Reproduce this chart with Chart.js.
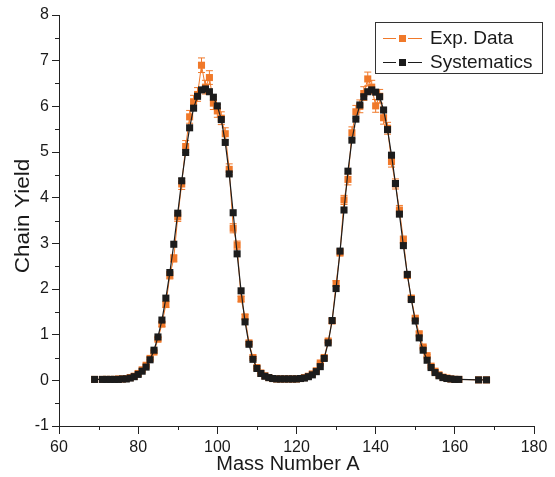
<!DOCTYPE html>
<html><head><meta charset="utf-8">
<script src="https://cdn.jsdelivr.net/npm/chart.js@4.4.0/dist/chart.umd.min.js"></script>
<style>html,body{margin:0;padding:0;background:#fff}#wrap{width:555px;height:477px}</style>
</head><body><div id="wrap"><canvas id="c" width="555" height="477"></canvas></div>
<script>
const massNumbers = [69,71,72,73,74,75,76,77,78,79,80,81,82,83,84,85,86,87,88,89,90,91,92,93,94,95,96,97,98,99,100,101,102,103,104,105,106,107,108,109,110,111,112,113,114,115,116,117,118,119,120,121,122,123,124,125,126,127,128,129,130,131,132,133,134,135,136,137,138,139,140,141,142,143,144,145,146,147,148,149,150,151,152,153,154,155,156,157,158,159,160,161,166,168];
const systematics = [0.02,0.02,0.02,0.02,0.02,0.02,0.03,0.03,0.05,0.08,0.13,0.20,0.29,0.45,0.66,0.95,1.32,1.80,2.36,2.98,3.66,4.37,4.99,5.53,5.96,6.22,6.36,6.38,6.32,6.20,6.01,5.71,5.21,4.52,3.67,2.77,1.96,1.28,0.79,0.46,0.26,0.15,0.09,0.06,0.04,0.03,0.03,0.03,0.03,0.03,0.03,0.04,0.05,0.08,0.12,0.19,0.30,0.48,0.82,1.31,2.01,2.83,3.73,4.58,5.26,5.72,6.03,6.21,6.32,6.36,6.31,6.21,5.92,5.49,4.93,4.31,3.64,2.95,2.32,1.77,1.30,0.93,0.66,0.44,0.28,0.17,0.10,0.06,0.04,0.03,0.02,0.02,0.01,0.01];
const expData = [0.02,0.02,0.02,0.02,0.02,0.03,0.03,0.04,0.06,0.09,0.15,0.23,0.33,0.48,0.62,0.90,1.23,1.66,2.30,2.67,3.58,4.30,5.12,5.77,6.10,6.26,6.90,6.42,6.63,6.07,5.90,5.74,5.40,4.62,3.33,2.96,1.78,1.39,0.82,0.50,0.28,0.16,0.10,0.06,0.04,0.03,0.03,0.03,0.03,0.03,0.03,0.04,0.06,0.09,0.14,0.21,0.38,0.50,0.86,1.30,2.12,2.80,3.95,4.40,5.42,5.88,6.00,6.28,6.60,6.42,6.01,6.22,5.75,5.52,4.79,4.30,3.73,3.08,2.30,1.80,1.36,1.02,0.73,0.54,0.31,0.20,0.12,0.07,0.05,0.03,0.02,0.02,0.01,0.01];
const expErr = [0.01,0.01,0.01,0.01,0.01,0.01,0.01,0.01,0.01,0.01,0.02,0.02,0.02,0.03,0.03,0.04,0.05,0.06,0.08,0.08,0.10,0.12,0.13,0.14,0.14,0.15,0.16,0.15,0.15,0.14,0.14,0.14,0.13,0.12,0.10,0.09,0.06,0.05,0.03,0.02,0.02,0.01,0.01,0.01,0.01,0.01,0.01,0.01,0.01,0.01,0.01,0.01,0.01,0.01,0.01,0.01,0.02,0.02,0.03,0.05,0.06,0.08,0.10,0.12,0.13,0.14,0.14,0.15,0.15,0.15,0.14,0.15,0.14,0.13,0.12,0.11,0.10,0.08,0.07,0.06,0.05,0.04,0.03,0.02,0.02,0.01,0.01,0.01,0.01,0.01,0.01,0.01,0.01,0.01];
const xTickValues = [60,80,100,120,140,160,180];
const xMinorTicks = [70,90,110,130,150,170];
const yTickValues = [-1,0,1,2,3,4,5,6,7,8];
const yMinorTicks = [-0.5,0.5,1.5,2.5,3.5,4.5,5.5,6.5,7.5];
const seriesNames = ['Exp. Data','Systematics'];
const xTitle = 'Mass Number A';
const yTitle = 'Chain Yield';

const ORANGE = '#f0792a';
const BLACK = '#1c1c1c';
const TEXT = '#1a1a1a';
const FONT = 'Liberation Sans, Arial, Helvetica, sans-serif';

const expPoints = massNumbers.map((a,i)=>({x:a,y:expData[i]}));
const sysPoints = massNumbers.map((a,i)=>({x:a,y:systematics[i]}));

const errorBars = {
  id:'errorBars',
  afterDatasetDraw(chart,args){
    if(args.index!==0) return;
    const {ctx, scales:{x,y}} = chart;
    ctx.save();
    ctx.strokeStyle = ORANGE; ctx.lineWidth = 1;
    ctx.beginPath();
    massNumbers.forEach((a,i)=>{
      const px = x.getPixelForValue(a);
      const t = y.getPixelForValue(expData[i]+expErr[i]);
      const b = y.getPixelForValue(expData[i]-expErr[i]);
      ctx.moveTo(px,t); ctx.lineTo(px,b);
      ctx.moveTo(px-3.5,t); ctx.lineTo(px+3.5,t);
      ctx.moveTo(px-3.5,b); ctx.lineTo(px+3.5,b);
    });
    ctx.stroke();
    ctx.restore();
  }
};

const minorTicks = {
  id:'minorTicks',
  afterDraw(chart){
    const {ctx, scales:{x,y}, chartArea:a} = chart;
    ctx.save();
    ctx.strokeStyle = '#222'; ctx.lineWidth = 1;
    ctx.beginPath();
    xMinorTicks.forEach(v=>{
      const px = Math.round(x.getPixelForValue(v))+0.5;
      ctx.moveTo(px,a.bottom); ctx.lineTo(px,a.bottom+4);
    });
    yMinorTicks.forEach(v=>{
      const py = Math.round(y.getPixelForValue(v))+0.5;
      ctx.moveTo(a.left,py); ctx.lineTo(a.left-4,py);
    });
    ctx.stroke();
    ctx.restore();
  }
};

const axisTitles = {
  id:'axisTitles',
  afterDraw(chart){
    const ctx = chart.ctx;
    ctx.save();
    ctx.fillStyle = TEXT;
    ctx.font = '20px '+FONT;
    ctx.textAlign = 'center'; ctx.textBaseline = 'middle';
    ctx.fillText(xTitle, 288, 464);
    ctx.translate(23, 216);
    ctx.rotate(-Math.PI/2);
    ctx.scale(1.13, 1);
    ctx.fillText(yTitle, 0, 0);
    ctx.restore();
  }
};

const boxLegend = {
  id:'boxLegend',
  afterDraw(chart){
    const ctx = chart.ctx;
    const bx=375.5, by=22.5, bw=167, bh=51;
    ctx.save();
    ctx.fillStyle='#fff'; ctx.fillRect(bx,by,bw,bh);
    ctx.strokeStyle='#333'; ctx.lineWidth=1; ctx.strokeRect(bx,by,bw,bh);
    const colors=[ORANGE,BLACK];
    const rows=[38,62];
    seriesNames.forEach((name,i)=>{
      const cy=rows[i];
      ctx.strokeStyle=colors[i]; ctx.lineWidth=1;
      ctx.beginPath(); ctx.moveTo(383,cy+0.5); ctx.lineTo(396,cy+0.5); ctx.moveTo(408,cy+0.5); ctx.lineTo(422,cy+0.5); ctx.stroke();
      ctx.fillStyle=colors[i]; ctx.fillRect(399,cy-3,7,7);
      ctx.fillStyle=TEXT; ctx.font='19px '+FONT; ctx.textBaseline='middle'; ctx.textAlign='left';
      ctx.fillText(name,430,cy+1);
    });
    ctx.restore();
  }
};

new Chart(document.getElementById('c'),{
  type:'line',
  data:{datasets:[
    {label:seriesNames[0],data:expPoints,borderColor:ORANGE,backgroundColor:ORANGE,borderWidth:1,pointStyle:'rect',pointRadius:5,pointBorderWidth:0,tension:0,order:1},
    {label:seriesNames[1],data:sysPoints,borderColor:BLACK,backgroundColor:BLACK,borderWidth:1.2,pointStyle:'rect',pointRadius:5,pointBorderWidth:0,tension:0,order:0}
  ]},
  options:{
    responsive:false,animation:false,devicePixelRatio:1,
    layout:{padding:{top:15,right:21,left:0,bottom:0}},
    plugins:{legend:{display:false},tooltip:{enabled:false}},
    scales:{
      x:{type:'linear',min:60,max:180,
        afterBuildTicks:s=>{s.ticks=xTickValues.map(v=>({value:v}));},
        afterFit:s=>{s.height=51;},
        ticks:{font:{family:FONT,size:16},color:TEXT,padding:4,maxRotation:0,autoSkip:false},
        grid:{drawOnChartArea:false,drawTicks:true,tickLength:8,tickColor:'#222',tickWidth:1},
        border:{display:true,color:'#222',width:1},
        title:{display:false}
      },
      y:{type:'linear',min:-1,max:8,
        afterBuildTicks:s=>{s.ticks=yTickValues.map(v=>({value:v}));},
        afterFit:s=>{s.width=59;},
        ticks:{font:{family:FONT,size:16},color:TEXT,padding:3,autoSkip:false},
        grid:{drawOnChartArea:false,drawTicks:true,tickLength:7,tickColor:'#222',tickWidth:1},
        border:{display:true,color:'#222',width:1},
        title:{display:false}
      }
    }
  },
  plugins:[errorBars,minorTicks,axisTitles,boxLegend]
});
</script></body></html>
